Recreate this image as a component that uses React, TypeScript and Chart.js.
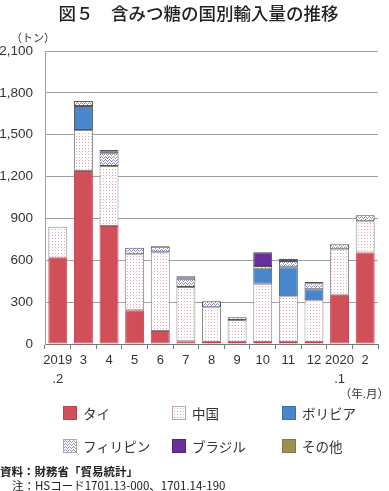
import React, { useEffect, useRef } from "react";
import { Chart, registerables } from "chart.js";

Chart.register(...registerables);

const categories: (string | string[])[] = [["2019", ".2"], "3", "4", "5", "6", "7", "8", "9", "10", "11", "12", ["2020", ".1"], "2"];
const thai = [619, 1240, 845, 242, 93, 20, 15, 15, 15, 15, 15, 353, 655];
const china = [222, 294, 431, 401, 564, 389, 248, 157, 417, 327, 298, 326, 225];
const bolivia = [null, 172, null, null, null, null, null, null, 108, 208, 79, null, null];
const philippines = [null, 36, 91, 47, 40, 59, 43, 19, 19, 45, 43, 36, 43];
const brazil = [null, null, null, null, null, null, null, null, 98, null, null, null, null];
const other = [null, null, 24, null, 5, 17, null, null, null, 14, 9, null, null];
const yTicks = [0, 300, 600, 900, 1200, 1500, 1800, 2100];

const FONT = "'Liberation Sans', 'Noto Sans CJK JP', sans-serif";
const JP = "'Noto Sans CJK JP', 'Liberation Sans', sans-serif";

function makeDots(): HTMLCanvasElement {
  const c = document.createElement("canvas");
  c.width = 3; c.height = 3;
  const g = c.getContext("2d")!;
  g.fillStyle = "#ffffff"; g.fillRect(0, 0, 3, 3);
  g.fillStyle = "#e0a6b6"; g.fillRect(1, 1, 1, 1);
  return c;
}
function makeWaves(): HTMLCanvasElement {
  const c = document.createElement("canvas");
  c.width = 4; c.height = 3;
  const g = c.getContext("2d")!;
  g.fillStyle = "#ffffff"; g.fillRect(0, 0, 4, 3);
  g.fillStyle = "#8c8cc4";
  g.fillRect(0, 1, 1, 1); g.fillRect(1, 0, 1, 1); g.fillRect(2, 1, 1, 1); g.fillRect(3, 2, 1, 1);
  return c;
}
const dotsCanvas = makeDots();
const wavesCanvas = makeWaves();

const RED = "#d04f59";
const BLUE = "#4a86cb";
const PURPLE = "#6b2f9b";
const OLIVE = "#9b9152";

const legendItems = [
  { label: "タイ", bg: RED, border: "#b84550" },
  { label: "中国", img: dotsCanvas.toDataURL(), border: "#aaa" },
  { label: "ボリビア", bg: BLUE, border: "#3d6fa8" },
  { label: "フィリピン", img: wavesCanvas.toDataURL(), border: "#aaa" },
  { label: "ブラジル", bg: PURPLE, border: "#552478" },
  { label: "その他", bg: OLIVE, border: "#80783f" },
];

export default function App() {
  const ref = useRef<HTMLCanvasElement>(null);
  useEffect(() => {
    document.body.style.margin = "0";
    const ctx = ref.current!.getContext("2d")!;
    const dotP = ctx.createPattern(dotsCanvas, "repeat")!;
    const waveP = ctx.createPattern(wavesCanvas, "repeat")!;
    const ds = (label: string, data: any[], bg: any, border: string) => ({
      label, data, backgroundColor: bg, borderColor: border, borderWidth: 1,
      barPercentage: 0.74, categoryPercentage: 1, borderSkipped: false,
    });
    const chart = new Chart(ctx, {
      type: "bar",
      data: {
        labels: categories,
        datasets: [
          ds("タイ", thai, RED, "#b84550"),
          ds("中国", china, dotP, "#8a8a8a"),
          ds("ボリビア", bolivia, BLUE, "#555"),
          ds("フィリピン", philippines, waveP, "#555"),
          ds("ブラジル", brazil, PURPLE, "#444"),
          ds("その他", other, OLIVE, "#555"),
        ] as any,
      },
      options: {
        responsive: false,
        animation: false,
        layout: { padding: { top: 51, right: 11, left: 0, bottom: 0 } },
        plugins: { legend: { display: false }, title: { display: false }, tooltip: { enabled: false } },
        scales: {
          x: {
            stacked: true,
            grid: { drawOnChartArea: false, tickLength: 5, color: "#777", offset: true },
            border: { color: "#777" },
            ticks: { color: "#333", font: { family: FONT, size: 13, lineHeight: 1.45 }, padding: 2, maxRotation: 0, autoSkip: false },
            afterFit: (s: any) => { s.height = 56; },
          },
          y: {
            stacked: true,
            min: 0, max: 2100,
            afterBuildTicks: (s: any) => { s.ticks = yTicks.map((v) => ({ value: v })); },
            grid: { color: "#a0a0a0", drawTicks: false },
            border: { color: "#a0a0a0" },
            ticks: {
              color: "#333", font: { family: FONT, size: 13.5 }, padding: 12,
              callback: (v: any) => Number(v).toLocaleString("en-US"),
            },
            afterFit: (s: any) => { s.width = 45; },
          },
        },
      },
    });
    return () => chart.destroy();
  }, []);

  return (
    <div style={{ position: "relative", width: 389, height: 491, background: "#fff", overflow: "hidden", color: "#222" }}>
      <canvas ref={ref} width={389} height={400} style={{ position: "absolute", left: 0, top: 0 }} />
      <div style={{ position: "absolute", left: 4, width: 389, top: 1, textAlign: "center", fontFamily: JP, fontSize: 17.5, fontWeight: 500, lineHeight: "24px", color: "#222" }}>
        図５　含みつ糖の国別輸入量の推移
      </div>
      <div style={{ position: "absolute", left: 11, top: 29, fontFamily: JP, fontSize: 11, lineHeight: "16px", color: "#333" }}>（トン）</div>
      <div style={{ position: "absolute", right: 0, top: 385, fontFamily: JP, fontSize: 11.5, lineHeight: "16px", color: "#333" }}>（年.月）</div>
      {legendItems.map((it, i) => {
        const col = i % 3, row = Math.floor(i / 3);
        const x = [63, 172, 282][col];
        const y = [406, 439][row];
        return (
          <div key={i} style={{ position: "absolute", left: x, top: y, display: "flex", alignItems: "center", height: 14 }}>
            <div style={{ width: 12, height: 12, border: `1px solid ${it.border}`, background: it.img ? `url(${it.img})` : it.bg }} />
            <span style={{ marginLeft: 6, fontFamily: JP, fontSize: 13.5, color: "#333", whiteSpace: "nowrap" }}>{it.label}</span>
          </div>
        );
      })}
      <div style={{ position: "absolute", left: 0, top: 463, fontFamily: JP, fontSize: 11.5, fontWeight: 700, lineHeight: "16px", color: "#222", whiteSpace: "nowrap" }}>資料：財務省「貿易統計」</div>
      <div style={{ position: "absolute", left: 12, top: 477, fontFamily: JP, fontSize: 11.5, lineHeight: "16px", color: "#222", whiteSpace: "nowrap" }}>注：HSコード1701.13-000、1701.14-190</div>
    </div>
  );
}
